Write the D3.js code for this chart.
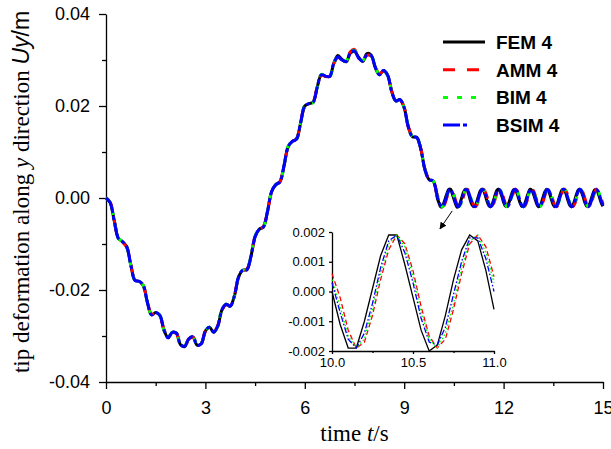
<!DOCTYPE html>
<html>
<head>
<meta charset="utf-8">
<script src="https://cdn.jsdelivr.net/npm/d3@7"></script>
<style>
  body { margin: 0; background: #fff; }
  #chart { width: 611px; height: 449px; }
</style>
</head>
<body>
<div id="chart"></div>
<script>
//----------------DATA----------------//
// forced part, 0 .. 10 s
var timeForced = [
  0, 0.125, 0.25, 0.375, 0.5, 0.625, 0.75, 0.875,
  1, 1.125, 1.25, 1.375, 1.5, 1.625, 1.75, 1.875,
  2, 2.125, 2.25, 2.375, 2.5, 2.625, 2.75, 2.875,
  3, 3.125, 3.25, 3.375, 3.5, 3.625, 3.75, 3.875,
  4, 4.125, 4.25, 4.375, 4.5, 4.625, 4.75, 4.875,
  5, 5.125, 5.25, 5.375, 5.5, 5.625, 5.75, 5.875,
  6, 6.125, 6.25, 6.375, 6.5, 6.625, 6.75, 6.875,
  7, 7.125, 7.25, 7.375, 7.5, 7.625, 7.75, 7.875,
  8, 8.125, 8.25, 8.375, 8.5, 8.625, 8.75, 8.875,
  9, 9.125, 9.25, 9.375, 9.5, 9.625, 9.75, 9.875,
  10
];
// free vibration part, 10.05 .. 15 s
var timeFree = [
  10.05, 10.1, 10.15, 10.2, 10.25, 10.3, 10.35, 10.4, 10.45, 10.5,
  10.55, 10.6, 10.65, 10.7, 10.75, 10.8, 10.85, 10.9, 10.95, 11,
  11.05, 11.1, 11.15, 11.2, 11.25, 11.3, 11.35, 11.4, 11.45, 11.5,
  11.55, 11.6, 11.65, 11.7, 11.75, 11.8, 11.85, 11.9, 11.95, 12,
  12.05, 12.1, 12.15, 12.2, 12.25, 12.3, 12.35, 12.4, 12.45, 12.5,
  12.55, 12.6, 12.65, 12.7, 12.75, 12.8, 12.85, 12.9, 12.95, 13,
  13.05, 13.1, 13.15, 13.2, 13.25, 13.3, 13.35, 13.4, 13.45, 13.5,
  13.55, 13.6, 13.65, 13.7, 13.75, 13.8, 13.85, 13.9, 13.95, 14,
  14.05, 14.1, 14.15, 14.2, 14.25, 14.3, 14.35, 14.4, 14.45, 14.5,
  14.55, 14.6, 14.65, 14.7, 14.75, 14.8, 14.85, 14.9, 14.95, 15
];

var femForced = [
  0, -0.0010, -0.0050, -0.0088, -0.0095, -0.0106, -0.0146, -0.0179,
  -0.0181, -0.0190, -0.0227, -0.0254, -0.0249, -0.0255, -0.0287, -0.0304,
  -0.0292, -0.0294, -0.0319, -0.0323, -0.0306, -0.0302, -0.0320, -0.0317,
  -0.0289, -0.0281, -0.0292, -0.0278, -0.0243, -0.0231, -0.0235, -0.0213,
  -0.0172, -0.0157, -0.0156, -0.0127, -0.0084, -0.0068, -0.0063, -0.0029,
  0.0014, 0.0029, 0.0035, 0.0071, 0.0112, 0.0123, 0.0128, 0.0164,
  0.0200, 0.0205, 0.0208, 0.0241, 0.0268, 0.0265, 0.0264, 0.0293,
  0.0310, 0.0301, 0.0296, 0.0315, 0.0319, 0.0306, 0.0297, 0.0314,
  0.0311, 0.0284, 0.0268, 0.0277, 0.0267, 0.0231, 0.0211, 0.0214,
  0.0196, 0.0154, 0.0133, 0.0132, 0.0107, 0.0062, 0.0040, 0.0037,
  0.0000
];
var ammForced = [
  0, -0.0009, -0.0049, -0.0087, -0.0096, -0.0107, -0.0145, -0.0178,
  -0.0182, -0.0191, -0.0226, -0.0253, -0.0250, -0.0256, -0.0286, -0.0303,
  -0.0293, -0.0295, -0.0318, -0.0322, -0.0307, -0.0303, -0.0319, -0.0316,
  -0.0290, -0.0282, -0.0291, -0.0277, -0.0244, -0.0232, -0.0234, -0.0212,
  -0.0173, -0.0158, -0.0155, -0.0126, -0.0085, -0.0069, -0.0062, -0.0028,
  0.0013, 0.0028, 0.0036, 0.0072, 0.0111, 0.0122, 0.0129, 0.0165,
  0.0199, 0.0204, 0.0209, 0.0242, 0.0267, 0.0264, 0.0265, 0.0292,
  0.0306, 0.0300, 0.0299, 0.0318, 0.0323, 0.0303, 0.0300, 0.0310,
  0.0309, 0.0286, 0.0270, 0.0276, 0.0266, 0.0232, 0.0212, 0.0213,
  0.0197, 0.0155, 0.0134, 0.0131, 0.0108, 0.0063, 0.0041, 0.0038,
  0.0006
];
var bimForced = [
  0, -0.0010, -0.0051, -0.0088, -0.0094, -0.0106, -0.0147, -0.0179,
  -0.0180, -0.0190, -0.0228, -0.0254, -0.0248, -0.0255, -0.0288, -0.0304,
  -0.0291, -0.0294, -0.0320, -0.0322, -0.0305, -0.0302, -0.0321, -0.0317,
  -0.0288, -0.0281, -0.0293, -0.0278, -0.0242, -0.0231, -0.0236, -0.0213,
  -0.0171, -0.0157, -0.0157, -0.0127, -0.0083, -0.0068, -0.0064, -0.0029,
  0.0015, 0.0029, 0.0034, 0.0071, 0.0113, 0.0123, 0.0127, 0.0164,
  0.0201, 0.0205, 0.0207, 0.0241, 0.0269, 0.0265, 0.0263, 0.0293,
  0.0307, 0.0301, 0.0298, 0.0317, 0.0321, 0.0304, 0.0299, 0.0311,
  0.0310, 0.0285, 0.0269, 0.0277, 0.0266, 0.0231, 0.0211, 0.0214,
  0.0196, 0.0154, 0.0133, 0.0132, 0.0107, 0.0062, 0.0041, 0.0037,
  0.0004
];
var bsimForced = [
  0, -0.0010, -0.0050, -0.0088, -0.0095, -0.0106, -0.0146, -0.0179,
  -0.0181, -0.0190, -0.0227, -0.0254, -0.0249, -0.0255, -0.0287, -0.0304,
  -0.0292, -0.0294, -0.0319, -0.0322, -0.0306, -0.0302, -0.0320, -0.0317,
  -0.0289, -0.0281, -0.0292, -0.0278, -0.0243, -0.0231, -0.0235, -0.0213,
  -0.0172, -0.0157, -0.0156, -0.0127, -0.0084, -0.0068, -0.0063, -0.0029,
  0.0014, 0.0029, 0.0035, 0.0071, 0.0112, 0.0123, 0.0128, 0.0164,
  0.0200, 0.0205, 0.0208, 0.0241, 0.0268, 0.0265, 0.0264, 0.0293,
  0.0307, 0.0300, 0.0297, 0.0316, 0.0320, 0.0304, 0.0298, 0.0311,
  0.0310, 0.0285, 0.0268, 0.0277, 0.0267, 0.0231, 0.0211, 0.0214,
  0.0196, 0.0154, 0.0133, 0.0132, 0.0107, 0.0062, 0.0040, 0.0037,
  0.0003
];

var femFree = [
  -0.0011, -0.0019, -0.0019, -0.0010, 0.0001, 0.0012, 0.0019, 0.0019, 0.0009, -0.0002,
  -0.0013, -0.0020, -0.0018, -0.0008, 0.0004, 0.0014, 0.0019, 0.0017, 0.0007, -0.0006,
  -0.0015, -0.0019, -0.0016, -0.0006, 0.0006, 0.0016, 0.0019, 0.0015, 0.0005, -0.0007,
  -0.0016, -0.0019, -0.0014, -0.0004, 0.0008, 0.0017, 0.0019, 0.0013, 0.0003, -0.0009,
  -0.0017, -0.0018, -0.0012, -0.0001, 0.0010, 0.0018, 0.0018, 0.0011, 0.0000, -0.0011,
  -0.0018, -0.0018, -0.0010, 0.0001, 0.0012, 0.0019, 0.0017, 0.0009, -0.0002, -0.0013,
  -0.0019, -0.0017, -0.0008, 0.0004, 0.0014, 0.0019, 0.0016, 0.0007, -0.0005, -0.0015,
  -0.0019, -0.0016, -0.0006, 0.0006, 0.0016, 0.0019, 0.0015, 0.0005, -0.0007, -0.0016,
  -0.0019, -0.0014, -0.0004, 0.0008, 0.0017, 0.0019, 0.0013, 0.0003, -0.0009, -0.0017,
  -0.0018, -0.0012, -0.0001, 0.0010, 0.0018, 0.0018, 0.0011, 0.0000, -0.0011, -0.0018
];
var ammFree = [
  -0.0002, -0.0013, -0.0019, -0.0017, -0.0008, 0.0004, 0.0014, 0.0019, 0.0016, 0.0007,
  -0.0005, -0.0015, -0.0019, -0.0016, -0.0006, 0.0006, 0.0016, 0.0019, 0.0015, 0.0005,
  -0.0007, -0.0016, -0.0019, -0.0014, -0.0004, 0.0008, 0.0017, 0.0019, 0.0013, 0.0003,
  -0.0009, -0.0017, -0.0018, -0.0012, -0.0001, 0.0010, 0.0018, 0.0018, 0.0011, 0.0000,
  -0.0011, -0.0018, -0.0018, -0.0010, 0.0001, 0.0012, 0.0019, 0.0017, 0.0009, -0.0002,
  -0.0013, -0.0019, -0.0017, -0.0008, 0.0004, 0.0014, 0.0019, 0.0016, 0.0007, -0.0005,
  -0.0015, -0.0019, -0.0016, -0.0006, 0.0006, 0.0016, 0.0019, 0.0015, 0.0005, -0.0007,
  -0.0016, -0.0019, -0.0014, -0.0004, 0.0008, 0.0017, 0.0019, 0.0013, 0.0003, -0.0009,
  -0.0017, -0.0018, -0.0012, -0.0001, 0.0010, 0.0018, 0.0018, 0.0011, 0.0000, -0.0011,
  -0.0018, -0.0018, -0.0010, 0.0001, 0.0012, 0.0019, 0.0017, 0.0009, -0.0002, -0.0013
];
var bimFree = [
  -0.0005, -0.0015, -0.0019, -0.0016, -0.0006, 0.0006, 0.0016, 0.0019, 0.0015, 0.0005,
  -0.0007, -0.0016, -0.0019, -0.0014, -0.0004, 0.0008, 0.0017, 0.0019, 0.0013, 0.0003,
  -0.0009, -0.0017, -0.0018, -0.0012, -0.0001, 0.0010, 0.0018, 0.0018, 0.0011, 0.0000,
  -0.0011, -0.0018, -0.0018, -0.0010, 0.0001, 0.0012, 0.0019, 0.0017, 0.0009, -0.0002,
  -0.0013, -0.0019, -0.0017, -0.0008, 0.0004, 0.0014, 0.0019, 0.0016, 0.0007, -0.0005,
  -0.0015, -0.0019, -0.0016, -0.0006, 0.0006, 0.0016, 0.0019, 0.0015, 0.0005, -0.0007,
  -0.0016, -0.0019, -0.0014, -0.0004, 0.0008, 0.0017, 0.0019, 0.0013, 0.0003, -0.0009,
  -0.0017, -0.0018, -0.0012, -0.0001, 0.0010, 0.0018, 0.0018, 0.0011, 0.0000, -0.0011,
  -0.0018, -0.0018, -0.0010, 0.0001, 0.0012, 0.0019, 0.0017, 0.0009, -0.0002, -0.0013,
  -0.0019, -0.0017, -0.0008, 0.0004, 0.0014, 0.0019, 0.0016, 0.0007, -0.0005, -0.0015
];
var bsimFree = [
  -0.0007, -0.0016, -0.0019, -0.0014, -0.0004, 0.0008, 0.0017, 0.0019, 0.0013, 0.0003,
  -0.0009, -0.0017, -0.0018, -0.0012, -0.0001, 0.0010, 0.0018, 0.0018, 0.0011, 0.0000,
  -0.0011, -0.0018, -0.0018, -0.0010, 0.0001, 0.0012, 0.0019, 0.0017, 0.0009, -0.0002,
  -0.0013, -0.0019, -0.0017, -0.0008, 0.0004, 0.0014, 0.0019, 0.0016, 0.0007, -0.0005,
  -0.0015, -0.0019, -0.0016, -0.0006, 0.0006, 0.0016, 0.0019, 0.0015, 0.0005, -0.0007,
  -0.0016, -0.0019, -0.0014, -0.0004, 0.0008, 0.0017, 0.0019, 0.0013, 0.0003, -0.0009,
  -0.0017, -0.0018, -0.0012, -0.0001, 0.0010, 0.0018, 0.0018, 0.0011, 0.0000, -0.0011,
  -0.0018, -0.0018, -0.0010, 0.0001, 0.0012, 0.0019, 0.0017, 0.0009, -0.0002, -0.0013,
  -0.0019, -0.0017, -0.0008, 0.0004, 0.0014, 0.0019, 0.0016, 0.0007, -0.0005, -0.0015,
  -0.0019, -0.0016, -0.0006, 0.0006, 0.0016, 0.0019, 0.0015, 0.0005, -0.0007, -0.0016
];

var seriesNames = ["FEM 4", "AMM 4", "BIM 4", "BSIM 4"];

var xTicks = [0, 3, 6, 9, 12, 15];
var xMinorTicks = [1.5, 4.5, 7.5, 10.5, 13.5];
var yTicks = [-0.04, -0.02, 0.00, 0.02, 0.04];
var yMinorTicks = [-0.03, -0.01, 0.01, 0.03];
var insetXTicks = [10.0, 10.5, 11.0];
var insetXMinorTicks = [10.25, 10.75];
var insetYTicks = [-0.002, -0.001, 0.000, 0.001, 0.002];

//----------------STYLES----------------//
var sans = "'Liberation Sans', Arial, Helvetica, sans-serif";
var serif = "'Liberation Serif', 'Times New Roman', Times, serif";
var colors = ["#000000", "#ff0000", "#00ff00", "#0000ff"];
var mainDash = [null, "12,12", "5,9", "17,3,4,3"];
var insetDash = [null, "5,3", "1.6,2", "6,2,1.6,2"];

var time = timeForced.concat(timeFree);
var series = [
  femForced.concat(femFree),
  ammForced.concat(ammFree),
  bimForced.concat(bimFree),
  bsimForced.concat(bsimFree)
];

var fmt = d3.formatLocale({decimal: ".", thousands: ",", grouping: [3], currency: ["", ""], minus: "-"});

var w = 611;
var h = 449;
var svg = d3.select("#chart").append("svg")
  .attr("width", w)
  .attr("height", h)
  .style("background", "#fff");

//PREPARE SCALES
var xScale = d3.scaleLinear().domain([0, 15]).range([106, 603]);
var yScale = d3.scaleLinear().domain([-0.04, 0.04]).range([382, 14]);

function styleAxis(g, size) {
  g.select(".domain").attr("stroke", "#000").attr("stroke-width", 1.3);
  g.selectAll(".tick line").attr("stroke", "#000").attr("stroke-width", 1.3);
  g.selectAll(".tick text")
    .attr("font-family", sans)
    .attr("font-size", size)
    .attr("fill", "#000");
}

//MINOR TICKS
svg.append("g")
  .attr("transform", "translate(106,0)")
  .call(d3.axisLeft(yScale).tickValues(yMinorTicks).tickSize(4).tickFormat(""))
  .call(function(g) { g.select(".domain").remove(); styleAxis(g, 18); });

svg.append("g")
  .attr("transform", "translate(0,382)")
  .call(d3.axisBottom(xScale).tickValues(xMinorTicks).tickSize(4).tickFormat(""))
  .call(function(g) { g.select(".domain").remove(); styleAxis(g, 18); });

//MAIN AXES
svg.append("g")
  .attr("transform", "translate(106,0)")
  .call(d3.axisLeft(yScale).tickValues(yTicks).tickSize(7).tickSizeOuter(0)
    .tickPadding(9).tickFormat(fmt.format(".2f")))
  .call(function(g) { styleAxis(g, 18); });

svg.append("g")
  .attr("transform", "translate(0,382)")
  .call(d3.axisBottom(xScale).tickValues(xTicks).tickSize(7).tickSizeOuter(0)
    .tickPadding(12).tickFormat(d3.format("d")))
  .call(function(g) { styleAxis(g, 18); });

//AXIS TITLES
var xTitle = svg.append("text")
  .attr("x", (xScale.range()[0] + xScale.range()[1]) / 2)
  .attr("y", 441)
  .attr("text-anchor", "middle")
  .attr("font-family", serif)
  .attr("font-size", 23)
  .attr("fill", "#000");
xTitle.append("tspan").text("time ");
xTitle.append("tspan").attr("font-style", "italic").text("t");
xTitle.append("tspan").text("/s");

var yTitle = svg.append("text")
  .attr("transform", "translate(29,192) rotate(-90)")
  .attr("text-anchor", "middle")
  .attr("font-family", serif)
  .attr("font-size", 23)
  .attr("fill", "#000");
yTitle.append("tspan").text("tip deformation along ");
yTitle.append("tspan").attr("font-style", "italic").text("y");
yTitle.append("tspan").text(" direction ");
yTitle.append("tspan").attr("font-family", sans).attr("font-style", "italic").text("Uy");
yTitle.append("tspan").attr("font-family", sans).text("/m");

//LINES
var mainLine = d3.line()
  .x(function(d, i) { return xScale(time[i]); })
  .y(function(d) { return yScale(d); })
  .curve(d3.curveCatmullRom);

series.forEach(function(vals, k) {
  svg.append("path")
    .attr("d", mainLine(vals))
    .attr("fill", "none")
    .attr("stroke", colors[k])
    .attr("stroke-width", 3)
    .attr("stroke-dasharray", mainDash[k])
    .attr("stroke-linejoin", "round");
});

//LEGEND
var legendX = 443;
var legendY = 42;
var legendGap = 27.7;
var legendLen = [42, 42, 42, 25];
seriesNames.forEach(function(name, k) {
  var ly = legendY + k * legendGap;
  svg.append("line")
    .attr("x1", legendX).attr("x2", legendX + legendLen[k])
    .attr("y1", ly).attr("y2", ly)
    .attr("stroke", colors[k])
    .attr("stroke-width", 3)
    .attr("stroke-dasharray", mainDash[k]);
  svg.append("text")
    .attr("x", legendX + 53)
    .attr("y", ly)
    .attr("dy", "0.36em")
    .attr("font-family", sans)
    .attr("font-weight", "bold")
    .attr("font-size", 19)
    .attr("fill", "#000")
    .text(name);
});

//ARROW TO INSET
svg.append("defs").append("marker")
  .attr("id", "arrowhead")
  .attr("viewBox", "0 0 10 10")
  .attr("refX", 9).attr("refY", 5)
  .attr("markerUnits", "userSpaceOnUse")
  .attr("markerWidth", 7).attr("markerHeight", 7)
  .attr("orient", "auto")
  .append("path")
  .attr("d", "M0,0L10,5L0,10z")
  .attr("fill", "#000");

svg.append("line")
  .attr("x1", xScale(10.45)).attr("y1", yScale(-0.0028))
  .attr("x2", xScale(10.08)).attr("y2", yScale(-0.0067))
  .attr("stroke", "#000")
  .attr("stroke-width", 1)
  .attr("marker-end", "url(#arrowhead)");

//----------------INSET----------------//
var ix = d3.scaleLinear().domain([10, 11]).range([332, 494]);
var iy = d3.scaleLinear().domain([-0.002, 0.002]).range([351, 232]);

var insetIdx = time.map(function(t, i) { return i; })
  .filter(function(i) { return time[i] >= 10 && time[i] <= 11; });

svg.append("g")
  .attr("transform", "translate(0,351)")
  .call(d3.axisBottom(ix).tickValues(insetXMinorTicks).tickSize(2).tickFormat(""))
  .call(function(g) { g.select(".domain").remove(); styleAxis(g, 13); });

svg.append("g")
  .attr("transform", "translate(332,0)")
  .call(d3.axisLeft(iy).tickValues(insetYTicks).tickSize(3).tickSizeOuter(0)
    .tickPadding(4).tickFormat(fmt.format(".3f")))
  .call(function(g) { styleAxis(g, 13); });

svg.append("g")
  .attr("transform", "translate(0,351)")
  .call(d3.axisBottom(ix).tickValues(insetXTicks).tickSize(3).tickSizeOuter(0)
    .tickPadding(4).tickFormat(d3.format(".1f")))
  .call(function(g) { styleAxis(g, 13); });

var insetLine = d3.line()
  .x(function(i) { return ix(time[i]); })
  .curve(d3.curveLinear);

series.forEach(function(vals, k) {
  svg.append("path")
    .attr("d", insetLine.y(function(i) { return iy(vals[i]); })(insetIdx))
    .attr("fill", "none")
    .attr("stroke", colors[k])
    .attr("stroke-width", 1.3)
    .attr("stroke-dasharray", insetDash[k]);
});
</script>
</body>
</html>
